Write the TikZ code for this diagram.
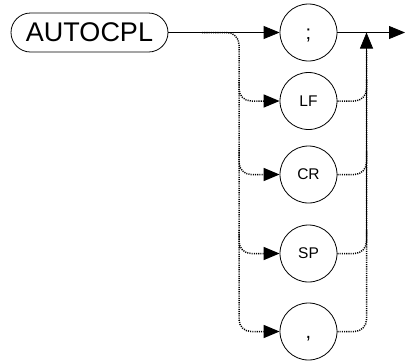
\documentclass[tikz,border=0pt]{standalone}
\usepackage{fontspec}
\setmainfont{Liberation Sans}
\usetikzlibrary{arrows.meta}
\begin{document}
\begin{tikzpicture}[x=1pt,y=-1pt,
  tip/.style={-{Triangle[length=16pt,width=13pt]}},
  solidline/.style={line width=0.8pt},
  dotline/.style={line width=1.5pt,dash pattern=on 1.1pt off 1.1pt,rounded corners=12pt},
  kw/.style={draw,line width=0.8pt,rounded corners=19.5pt,minimum width=157pt,minimum height=39pt,inner sep=0pt,font=\fontsize{27}{30}\selectfont},
  sym/.style={draw,circle,line width=0.8pt,minimum size=57pt,inner sep=0pt,font=\fontsize{15.5}{18}\selectfont},
  punct/.style={sym,font=\fontsize{20}{24}\selectfont,text height=14.3pt,text depth=0pt}]
\useasboundingbox (0,0) rectangle (405,360);
\node[kw] (auto) at (89.5,32.5) {AUTOCPL};
\node[punct] (semi) at (308.5,32.5) {;};
\node[sym] (lf) at (308.5,101) {LF};
\node[sym] (cr) at (308.5,174.5) {CR};
\node[sym] (sp) at (308.5,253.5) {SP};
\node[punct] (comma) at (308.5,331.5) {,};
\coordinate (b0) at (202,32.5);
\coordinate (jL) at (239,32.5);
\coordinate (jR) at (366.5,32.5);
\coordinate (end) at (405,32.5);
% main line
\draw[solidline,tip] (auto.east) -- (semi.west);
\draw[solidline,tip] (semi.east) -- (end);
% left branch
\draw[dotline,tip] (b0) -- (jL) -- (239,331.5) -- (comma.west);
\draw[dotline,tip] (239,80) |- (lf.west);
\draw[dotline,tip] (239,150) |- (cr.west);
\draw[dotline,tip] (239,230) |- (sp.west);
% right branch
\draw[dotline] (comma.east) -| (366.5,50);
\draw[dotline] (sp.east) -| (366.5,230);
\draw[dotline] (cr.east) -| (366.5,150);
\draw[dotline] (lf.east) -| (366.5,80);
\draw[solidline,tip] (366.5,243) -- (jR);
\end{tikzpicture}
\end{document}
